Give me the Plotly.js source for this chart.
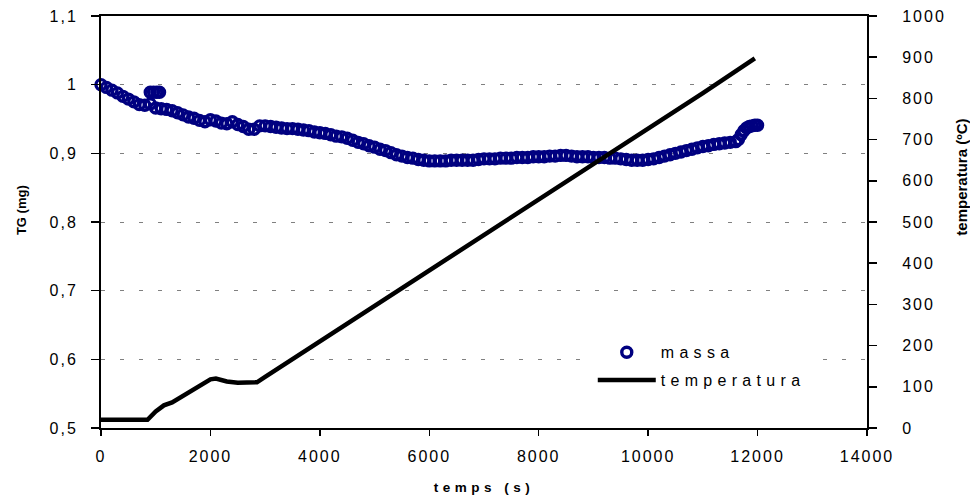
<!DOCTYPE html>
<html>
<head>
<meta charset="utf-8">
<script src="https://cdn.plot.ly/plotly-3.0.1.min.js"></script>
<style>
  html, body { margin: 0; padding: 0; background: #ffffff; }
  #chart { width: 970px; height: 499px; }
  .xtick text, .ytick text, .y2tick text { letter-spacing: 2px; }
  .legendtext { letter-spacing: 5.3px; }
  .xtitle { letter-spacing: 4.5px; }
</style>
</head>
<body>
<div id="chart"></div>
<script>
// Thermogravimetric run: sample mass (mg) and furnace temperature (ºC) against time (s)
const tMassa = [
  0, 100, 200, 300, 400, 500, 600, 700, 800, 900, 900, 960, 1000, 1020, 1070, 1100, 1200, 1300, 1400,
  1500, 1600, 1700, 1800, 1900, 2000, 2100, 2200, 2300, 2400, 2500, 2600, 2700, 2800, 2900,
  3000, 3100, 3200, 3300, 3400, 3500, 3600, 3700, 3800, 3900, 4000, 4100, 4200, 4300, 4400,
  4500, 4600, 4700, 4800, 4900, 5000, 5100, 5200, 5300, 5400, 5500, 5600, 5700, 5800, 5900,
  6000, 6100, 6200, 6300, 6400, 6500, 6600, 6700, 6800, 6900, 7000, 7100, 7200, 7300, 7400,
  7500, 7600, 7700, 7800, 7900, 8000, 8100, 8200, 8300, 8400, 8500, 8600, 8700, 8800, 8900,
  9000, 9100, 9200, 9300, 9400, 9500, 9600, 9700, 9800, 9900, 10000, 10100, 10200, 10300, 10400,
  10500, 10600, 10700, 10800, 10900, 11000, 11100, 11200, 11300, 11400, 11500, 11600, 11650, 11700, 11750,
  11800, 11850, 11900, 11950, 12000
];
const massa = [
  1.000, 0.996, 0.992, 0.988, 0.983, 0.979, 0.975, 0.971, 0.970, 0.989, 0.972, 0.989, 0.966, 0.989, 0.989, 0.965, 0.964, 0.962, 0.959,
  0.956, 0.953, 0.951, 0.948, 0.946, 0.949, 0.947, 0.944, 0.943, 0.946, 0.942, 0.939, 0.935, 0.935, 0.940,
  0.940, 0.939, 0.938, 0.937, 0.936, 0.936, 0.935, 0.934, 0.933, 0.931, 0.930, 0.929, 0.927, 0.925, 0.924,
  0.922, 0.919, 0.916, 0.914, 0.911, 0.909, 0.906, 0.904, 0.901, 0.898, 0.896, 0.894, 0.893, 0.891, 0.890,
  0.889, 0.889, 0.889, 0.889, 0.890, 0.890, 0.890, 0.890, 0.890, 0.891, 0.892, 0.892, 0.892, 0.893, 0.893,
  0.893, 0.894, 0.894, 0.894, 0.895, 0.895, 0.895, 0.896, 0.896, 0.897, 0.897, 0.896, 0.895, 0.895, 0.895,
  0.894, 0.894, 0.894, 0.893, 0.893, 0.892, 0.891, 0.890, 0.890, 0.890, 0.891, 0.892, 0.894, 0.896, 0.898,
  0.900, 0.902, 0.904, 0.906, 0.908, 0.910, 0.911, 0.913, 0.914, 0.915, 0.916, 0.917, 0.920, 0.927, 0.933,
  0.937, 0.939, 0.940, 0.941, 0.941
];

const tTemp = [0, 850, 1000, 1150, 1300, 1500, 1700, 2000, 2100, 2300, 2500, 2700, 2850, 3000,
  4000, 5000, 6000, 7000, 8000, 9000, 10000, 11000, 11950];
const temperatura = [20, 20, 40, 55, 62, 78, 95, 118, 120, 113, 110, 111, 111, 124,
  210, 296, 382, 468, 553, 640, 727, 813, 897];

const xTicks = [0, 2000, 4000, 6000, 8000, 10000, 12000, 14000];
const yTicks = [0.5, 0.6, 0.7, 0.8, 0.9, 1.0, 1.1];
const yTickText = ['0,5', '0,6', '0,7', '0,8', '0,9', '1', '1,1'];
const y2Ticks = [0, 100, 200, 300, 400, 500, 600, 700, 800, 900, 1000];

const FONT = 'Liberation Sans, Arial, sans-serif';

const traces = [
  {
    name: 'massa', legendgroup: 'm',
    x: tMassa, y: massa,
    type: 'scatter', mode: 'markers', cliponaxis: false,
    marker: { symbol: 'circle-open', size: 10, color: '#000080', line: { width: 3.4, color: '#000080' } },
    yaxis: 'y'
  },
  {
    name: 'temperatura', legendgroup: 't',
    x: tTemp, y: temperatura,
    type: 'scatter', mode: 'lines',
    line: { color: '#000000', width: 4.5 },
    yaxis: 'y2'
  }
];

const layout = {
  width: 970, height: 499,
  margin: { l: 101, r: 103, t: 16, b: 71 },
  paper_bgcolor: '#ffffff', plot_bgcolor: '#ffffff',
  font: { family: FONT, size: 16, color: '#000000' },
  showlegend: true,
  legend: {
    x: 0.642, y: 0.225, xanchor: 'left', yanchor: 'top',
    bgcolor: '#ffffff', borderwidth: 0,
    font: { family: FONT, size: 16, color: '#000000' },
    itemwidth: 58, tracegroupgap: 4, traceorder: 'grouped'
  },
  xaxis: {
    range: [0, 14000], tickvals: xTicks, ticktext: xTicks.map(String),
    showgrid: false, zeroline: false,
    showline: true, linecolor: '#000000', linewidth: 2,
    mirror: true,
    ticks: 'outside', ticklen: 6, tickwidth: 1.5, tickcolor: '#000000',
    ticklabelstandoff: 7,
    tickfont: { family: FONT, size: 16 },
    title: { text: '<b>temps (s)</b>', font: { family: FONT, size: 13.5 }, standoff: 18 }
  },
  yaxis: {
    range: [0.5, 1.1], tickvals: yTicks, ticktext: yTickText,
    showgrid: true, gridcolor: '#808080', gridwidth: 1, griddash: '4px,15px',
    zeroline: false,
    showline: true, linecolor: '#000000', linewidth: 2,
    ticks: 'outside', ticklen: 8, tickwidth: 1.5, tickcolor: '#000000',
    ticklabelstandoff: 10,
    tickfont: { family: FONT, size: 16 }
  },
  yaxis2: {
    overlaying: 'y', side: 'right', anchor: 'x',
    range: [0, 1000], tickvals: y2Ticks, ticktext: y2Ticks.map(String),
    showgrid: false, zeroline: false,
    showline: true, linecolor: '#000000', linewidth: 2,
    ticks: 'outside', ticklen: 8, tickwidth: 1.5, tickcolor: '#000000',
    ticklabelstandoff: 22,
    tickfont: { family: FONT, size: 16 }
  },
  yaxis3: {
    overlaying: 'y', side: 'right', anchor: 'x',
    range: [0, 1000], tickvals: y2Ticks,
    showticklabels: false, showgrid: false, zeroline: false, showline: false,
    ticks: 'inside', ticklen: 7, tickwidth: 1.5, tickcolor: '#000000'
  },
  annotations: [
    {
      // left axis title
      text: '<b>TG (mg)</b>', textangle: -90,
      xref: 'paper', yref: 'paper', x: -0.1044, y: 0.529,
      xanchor: 'center', yanchor: 'middle', showarrow: false,
      font: { family: FONT, size: 13, color: '#000000' }
    },
    {
      // right axis title
      text: '<b>temperatura (ºC)</b>', textangle: -90,
      xref: 'paper', yref: 'paper', x: 1.124, y: 0.61,
      xanchor: 'center', yanchor: 'middle', showarrow: false,
      font: { family: FONT, size: 15, color: '#000000' }
    }
  ]
};

Plotly.newPlot('chart', traces, layout, { displayModeBar: false, staticPlot: true });
</script>
</body>
</html>
